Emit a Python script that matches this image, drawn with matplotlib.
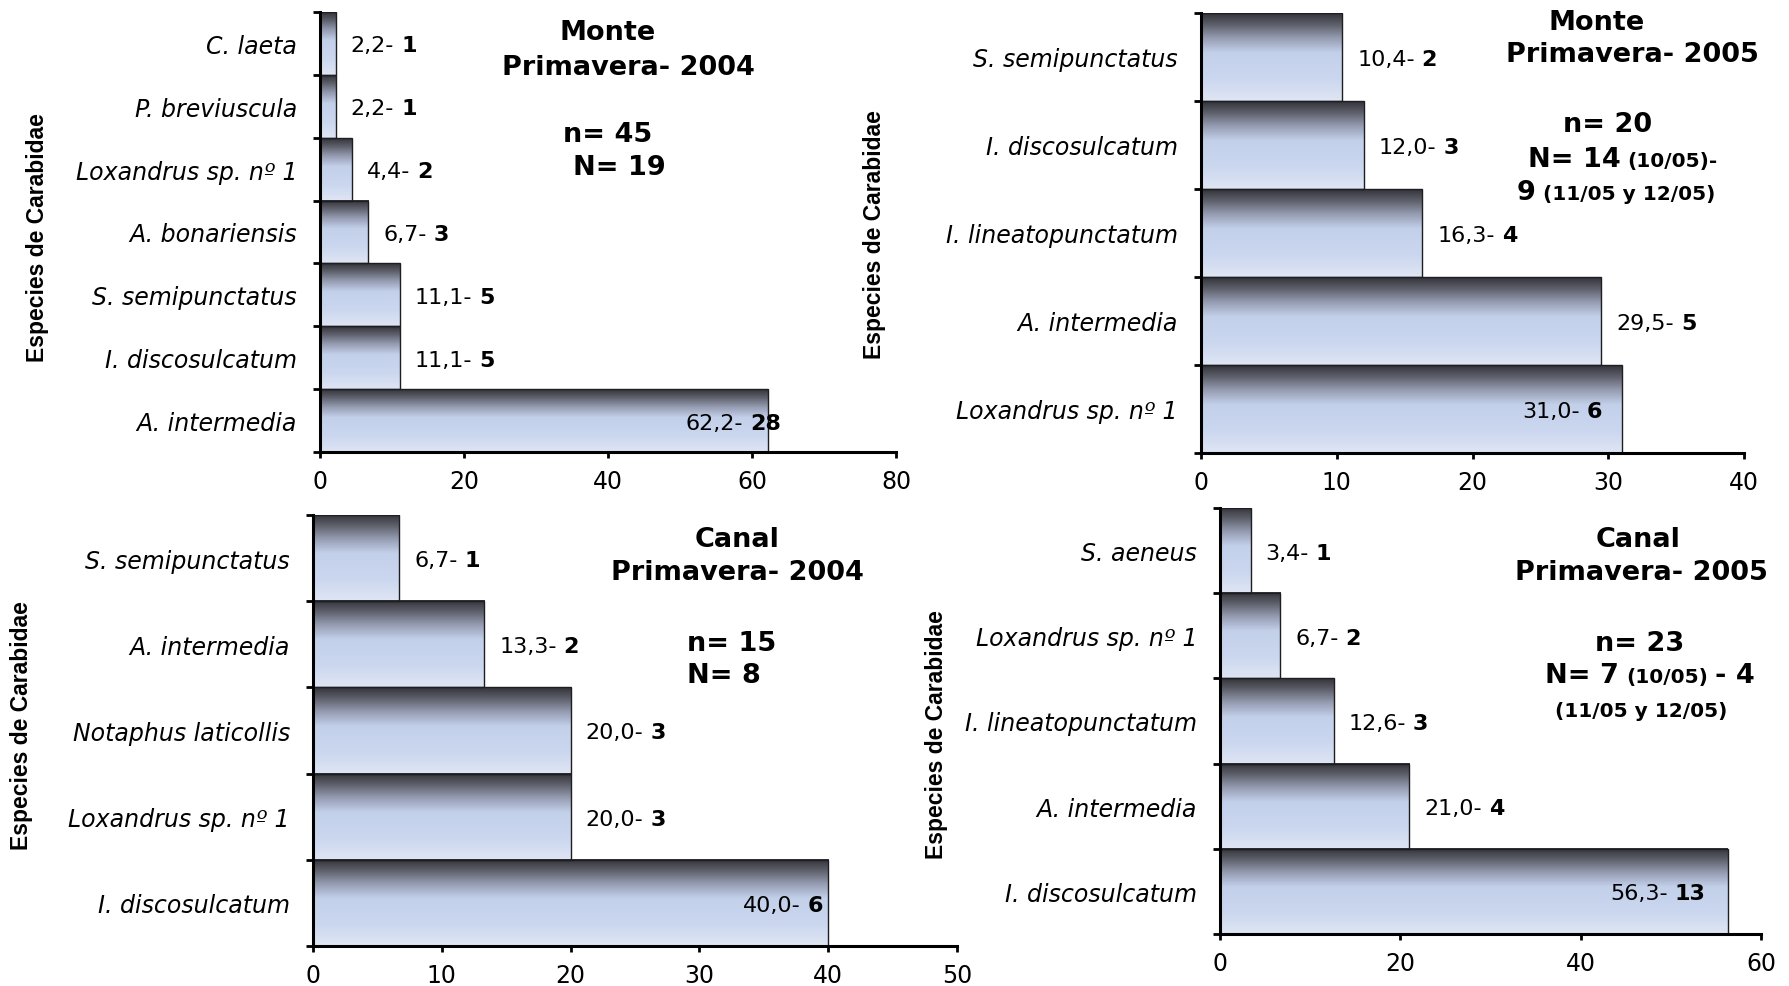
import numpy as np
import matplotlib
matplotlib.use("Agg")
import matplotlib.pyplot as plt
from matplotlib.colors import LinearSegmentedColormap
from matplotlib.text import Annotation

plt.rcParams["font.family"] = ["DejaVu Sans"]

W, H = 1789, 987

# ---- data: % of captures and number of individuals per species ----
monte04_species = ["C. laeta", "P. breviuscula", "Loxandrus sp. nº 1", "A. bonariensis",
                   "S. semipunctatus", "I. discosulcatum", "A. intermedia"]
monte04_pct = [2.2, 2.2, 4.4, 6.7, 11.1, 11.1, 62.2]
monte04_count = [1, 1, 2, 3, 5, 5, 28]

monte05_species = ["S. semipunctatus", "I. discosulcatum", "I. lineatopunctatum",
                   "A. intermedia", "Loxandrus sp. nº 1"]
monte05_pct = [10.4, 12.0, 16.3, 29.5, 31.0]
monte05_count = [2, 3, 4, 5, 6]

canal04_species = ["S. semipunctatus", "A. intermedia", "Notaphus laticollis",
                   "Loxandrus sp. nº 1", "I. discosulcatum"]
canal04_pct = [6.7, 13.3, 20.0, 20.0, 40.0]
canal04_count = [1, 2, 3, 3, 6]

canal05_species = ["S. aeneus", "Loxandrus sp. nº 1", "I. lineatopunctatum",
                   "A. intermedia", "I. discosulcatum"]
canal05_pct = [3.4, 6.7, 12.6, 21.0, 56.3]
canal05_count = [1, 2, 3, 4, 13]

y_title = "Especies de Carabidae"

BIG, SMALL = 19.5, 14.5
# header lines: (x px, baseline px, alignment, [(text, size), ...])
monte04_head = [(608, 40, "center", [("Monte", BIG)]),
                (628, 75, "center", [("Primavera- 2004", BIG)]),
                (608, 142, "center", [("n= 45", BIG)]),
                (619, 175, "center", [("N= 19", BIG)])]
monte05_head = [(1597, 29.5, "center", [("Monte", BIG)]),
                (1632, 62.5, "center", [("Primavera- 2005", BIG)]),
                (1608, 132, "center", [("n= 20", BIG)]),
                (1528, 167, "left", [("N= 14", BIG), ("(10/05)-", SMALL)]),
                (1517, 200, "left", [("9", BIG), ("(11/05 y 12/05)", SMALL)])]
canal04_head = [(737, 547, "center", [("Canal", BIG)]),
                (737, 580.5, "center", [("Primavera- 2004", BIG)]),
                (687, 651, "left", [("n= 15", BIG)]),
                (687, 683, "left", [("N= 8", BIG)])]
canal05_head = [(1638, 547, "center", [("Canal", BIG)]),
                (1641, 580.5, "center", [("Primavera- 2005", BIG)]),
                (1640, 651, "center", [("n= 23", BIG)]),
                (1545, 683, "left", [("N= 7", BIG), ("(10/05)", SMALL), ("- 4", BIG)]),
                (1641, 717, "center", [("(11/05 y 12/05)", SMALL)])]

# panel geometry in pixels: left, top, right, bottom
panels = [
    dict(species=monte04_species, pct=monte04_pct, count=monte04_count,
         rect=(320, 13, 896, 453), xmax=80, xstep=20, inside_dx=13,
         ylab=(38, 238), head=monte04_head),
    dict(species=monte05_species, pct=monte05_pct, count=monte05_count,
         rect=(1201, 14, 1744, 454), xmax=40, xstep=10, inside_dx=-20,
         ylab=(875, 235), head=monte05_head),
    dict(species=canal04_species, pct=canal04_pct, count=canal04_count,
         rect=(313, 516, 957, 947), xmax=50, xstep=10, inside_dx=-5,
         ylab=(22, 726), head=canal04_head),
    dict(species=canal05_species, pct=canal05_pct, count=canal05_count,
         rect=(1220, 509, 1761, 935), xmax=60, xstep=20, inside_dx=-22,
         ylab=(936, 735), head=canal05_head),
]

bar_cmap = LinearSegmentedColormap.from_list("bar_shade", [
    (0.00, "#333339"), (0.12, "#5a5c66"), (0.28, "#949bb0"),
    (0.45, "#c3d0ea"), (0.75, "#cbd7ef"), (1.00, "#dfe6f4")])
grad = np.linspace(0, 1, 256).reshape(-1, 1)

PX2PT = 72.0 / 100.0
VAL_SIZE = 16
GAP = 5  # points between the percentage and the count

fig = plt.figure(figsize=(W / 100, H / 100), dpi=100)
fig.patch.set_facecolor("white")


def fmt(v):
    return f"{v:.1f}".replace(".", ",") + "-"


def draw_head(lines):
    for x, yb, ha, segs in lines:
        yf = 1 - yb / H
        text, size = segs[0]
        prev = fig.text(x / W, yf, text, ha=ha, va="baseline",
                        fontsize=size, fontweight="bold")
        for text, size in segs[1:]:
            a = Annotation(text, xy=(1, yf), xycoords=(prev, "figure fraction"),
                           xytext=(5, 0), textcoords="offset points",
                           ha="left", va="baseline", fontsize=size,
                           fontweight="bold")
            fig.add_artist(a)
            prev = a


for p in panels:
    l, t, r, b = p["rect"]
    ax = fig.add_axes([l / W, 1 - b / H, (r - l) / W, (b - t) / H])
    species, pct, count = p["species"], p["pct"], p["count"]
    n = len(species)
    ypos = np.arange(n)[::-1]

    bars = ax.barh(ypos, pct, height=1.0, facecolor="none",
                   edgecolor="#1e1e22", linewidth=1.0, zorder=3)
    for rect in bars:
        x0, y0 = rect.get_x(), rect.get_y()
        ax.imshow(grad, cmap=bar_cmap, aspect="auto", origin="upper",
                  interpolation="bilinear", zorder=2,
                  extent=(x0, x0 + rect.get_width(), y0, y0 + rect.get_height()))

    ax.set_xlim(0, p["xmax"])
    ax.set_ylim(-0.5, n - 0.5)

    # value labels: "pct- count" with the count in bold
    vmax = max(pct)
    for v, c, y in zip(pct, count, ypos):
        if v == vmax:
            t2 = ax.annotate(str(c), xy=(v, y), xytext=(p["inside_dx"] * PX2PT, 0),
                             textcoords="offset points", ha="right",
                             va="center_baseline", fontsize=VAL_SIZE,
                             fontweight="bold", zorder=5)
            ax.annotate(fmt(v), xy=(0, y), xycoords=(t2, "data"),
                        xytext=(-GAP, 0), textcoords="offset points",
                        ha="right", va="center_baseline", fontsize=VAL_SIZE,
                        zorder=5)
        else:
            t1 = ax.annotate(fmt(v), xy=(v, y), xytext=(15 * PX2PT, 0),
                             textcoords="offset points", ha="left",
                             va="center_baseline", fontsize=VAL_SIZE, zorder=5)
            ax.annotate(str(c), xy=(1, y), xycoords=(t1, "data"),
                        xytext=(GAP, 0), textcoords="offset points",
                        ha="left", va="center_baseline", fontsize=VAL_SIZE,
                        fontweight="bold", zorder=5)

    # category ticks sit on band boundaries, names at band centres
    ax.set_yticks(np.arange(n + 1) - 0.5, labels=[""] * (n + 1))
    ax.set_yticks(ypos, labels=species, minor=True)
    ax.tick_params(axis="y", which="major", length=5, width=2, direction="out",
                   color="black")
    ax.tick_params(axis="y", which="minor", length=0, pad=23 * PX2PT,
                   labelsize=17)
    for lbl in ax.get_yticklabels(minor=True):
        lbl.set_fontstyle("italic")

    ax.set_xticks(np.arange(0, p["xmax"] + 1, p["xstep"]))
    ax.tick_params(axis="x", length=4.5, width=2, direction="out", pad=8,
                   labelsize=17, color="black")

    for s in ("top", "right"):
        ax.spines[s].set_visible(False)
    for s in ("left", "bottom"):
        ax.spines[s].set_linewidth(2.2)
        ax.spines[s].set_zorder(6)
    ax.set_facecolor("none")

    fig.text(p["ylab"][0] / W, 1 - p["ylab"][1] / H, y_title, rotation=90,
             ha="center", va="center", fontsize=16.5, fontweight="bold",
             family=["Liberation Sans", "DejaVu Sans"])
    draw_head(p["head"])

fig.savefig("out.png", dpi=100, facecolor="white")
